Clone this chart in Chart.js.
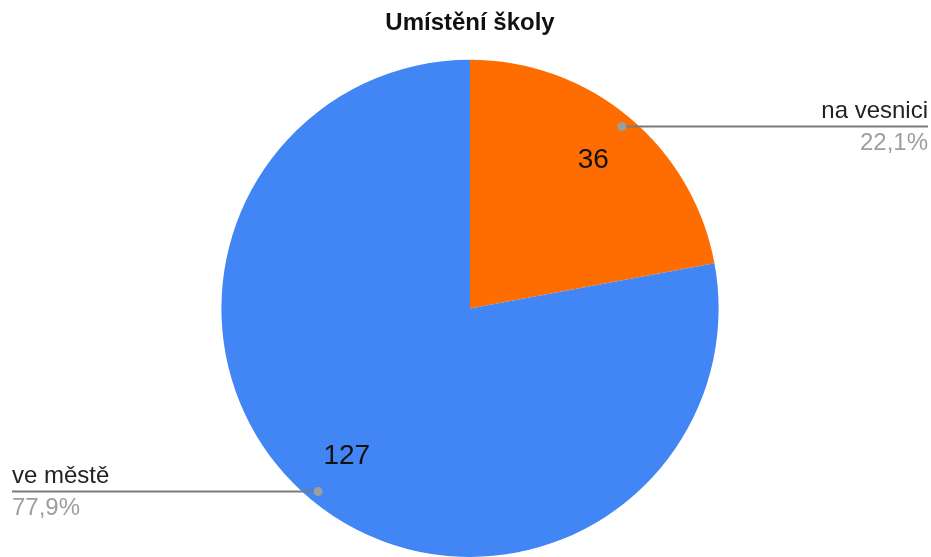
<!DOCTYPE html>
<html>
<head>
<meta charset="utf-8">
<script src="https://cdn.jsdelivr.net/npm/chart.js@4"></script>
<style>
  html, body { margin: 0; padding: 0; background: #fff; }
  #wrap { width: 931px; height: 557px; }
</style>
</head>
<body>
<div id="wrap"><canvas id="chartSchool"></canvas></div>
<script>
// data
const categories = ['na vesnici', 've městě'];
const counts = [36, 127];
const sliceColors = ['#ff6d01', '#4285f4'];
const chartTitle = 'Umístění školy';

const fontFamily = "'Liberation Sans', Arial, sans-serif";
const total = counts.reduce((a, b) => a + b, 0);

// value labels inside slices + leader lines with category / percent
const pieLabels = {
  id: 'pieLabels',
  afterDatasetsDraw(chart) {
    const c = chart.ctx;
    const meta = chart.getDatasetMeta(0);
    c.save();
    meta.data.forEach((arc, i) => {
      const { x, y, startAngle, endAngle, outerRadius } = arc.getProps(['x', 'y', 'startAngle', 'endAngle', 'outerRadius'], true);
      const mid = (startAngle + endAngle) / 2;
      const cos = Math.cos(mid), sin = Math.sin(mid);

      // count inside slice
      c.fillStyle = '#111';
      c.font = '28px ' + fontFamily;
      c.textAlign = 'center';
      c.textBaseline = 'middle';
      c.fillText(String(counts[i]), x + cos * outerRadius * 0.775, y + sin * outerRadius * 0.775);

      // leader line
      const dx = x + cos * outerRadius * 0.955;
      const dy = Math.round(y + sin * outerRadius * 0.955) + 0.5;
      const right = cos >= 0;
      const endX = right ? chart.width - 3 : 12;
      c.strokeStyle = '#7a7a7a';
      c.lineWidth = 2;
      c.beginPath();
      c.moveTo(dx, dy);
      c.lineTo(endX, dy);
      c.stroke();
      c.fillStyle = '#9e9e9e';
      c.beginPath();
      c.arc(dx, dy, 4.5, 0, Math.PI * 2);
      c.fill();

      // category + percentage
      const pct = (counts[i] / total * 100).toFixed(1).replace('.', ',') + '%';
      c.textAlign = right ? 'right' : 'left';
      c.textBaseline = 'alphabetic';
      c.font = '24px ' + fontFamily;
      c.fillStyle = '#222';
      c.fillText(categories[i], endX, dy - 9);
      c.fillStyle = '#9e9e9e';
      c.fillText(pct, endX, dy + 23);
    });
    c.restore();
  }
};

new Chart(document.getElementById('chartSchool'), {
  type: 'pie',
  data: {
    labels: categories,
    datasets: [{
      data: counts,
      backgroundColor: sliceColors,
      borderWidth: 0,
    }],
  },
  options: {
    responsive: true,
    maintainAspectRatio: false,
    animation: false,
    layout: { padding: { left: 9, right: 0, top: 0, bottom: 0 } },
    plugins: {
      legend: { display: false },
      tooltip: { enabled: false },
      title: {
        display: true,
        text: chartTitle,
        color: '#111',
        font: { family: fontFamily, size: 24, weight: 'bold' },
        padding: { top: 9, bottom: 22 },
      },
    },
  },
  plugins: [pieLabels],
});
</script>
</body>
</html>
